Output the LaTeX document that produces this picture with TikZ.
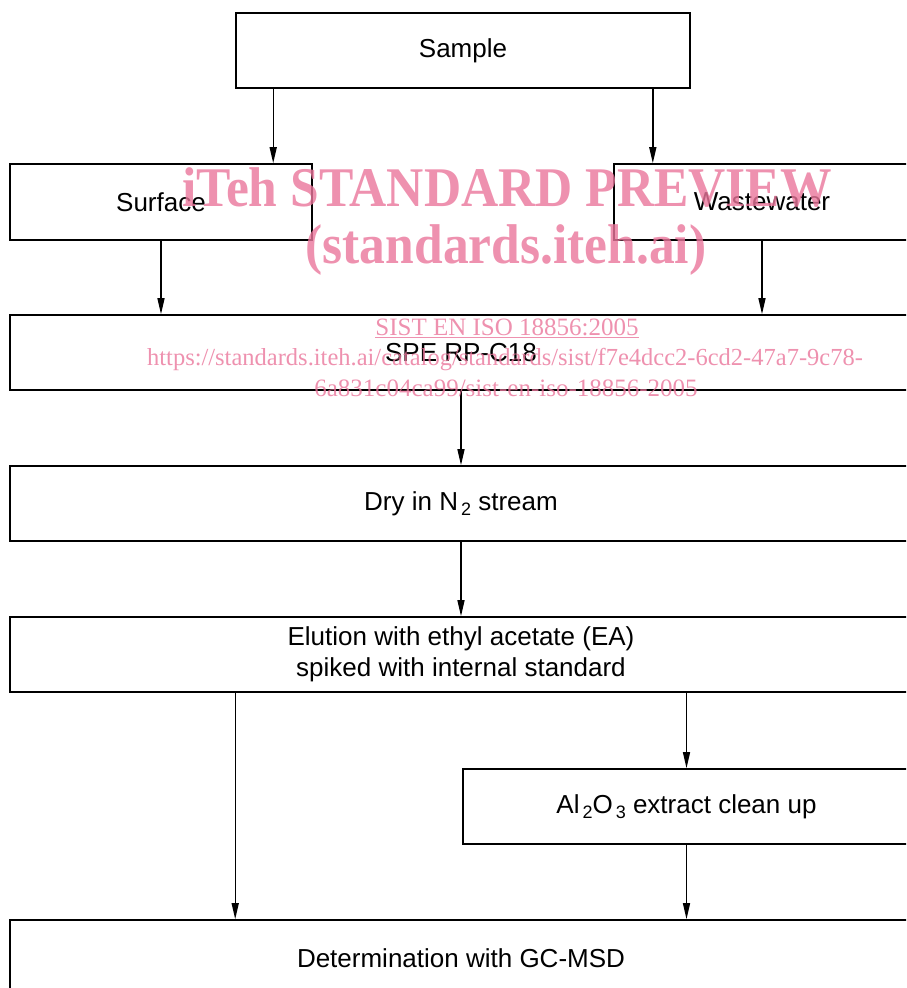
\documentclass[tikz,border=0pt]{standalone}
\usepackage{fontspec}
\setmainfont{Liberation Sans}
\newfontfamily\wmfont[FakeStretch=0.92]{Liberation Serif}
\newfontfamily\wmsmall{Liberation Serif}
\usetikzlibrary{arrows.meta}
\definecolor{wmpink}{RGB}{234,118,155}
\newcommand{\lowsub}[1]{\kern3pt\raisebox{-5pt}{\fontsize{18}{18}\selectfont #1}}
\begin{document}
\begin{tikzpicture}[
            x=1pt, y=-1pt,
            box/.style={draw, line width=1.6pt, inner sep=0pt, align=center,
                    minimum height=75pt, font=\fontsize{26}{31}\selectfont},
            flow/.style={-{Triangle[length=16pt,width=7pt]}, line width=1.4pt},
            wm/.style={text=wmpink, opacity=0.8, inner sep=0pt, anchor=base}
        ]
        \useasboundingbox (0,0) rectangle (906,988);
        \clip (0,0) rectangle (906,988);

        \node[box, minimum width=454pt] (sample) at (463,50.5) {Sample};
        \node[box, minimum width=302pt, minimum height=76pt] (surface) at (161,202) {Surface};
        \node[box, minimum width=296pt, minimum height=76pt] (waste) at (762,202) {Wastewater};
        \node[box, minimum width=902pt] (spe) at (461,352.5) {SPE RP-C18};
        \node[box, minimum width=902pt] (dry) at (461,503.5) {Dry in N\lowsub{2} stream};
        \node[box, minimum width=902pt] (elute) at (461,654.5) {Elution with ethyl acetate (EA)\\spiked with internal standard};
        \node[box, minimum width=447pt] (alox) at (686.5,806.5) {Al\lowsub{2}O\lowsub{3} extract clean up};
        \node[box, minimum width=902pt, minimum height=76pt] (gcmsd) at (461,958) {Determination with GC-MSD};

        \draw[flow] ([xshift=38pt]sample.south west) coordinate (sl) -- (sl |- surface.north);
        \draw[flow] ([xshift=-38pt]sample.south east) coordinate (sr) -- (sr |- waste.north);
        \draw[flow] (surface.south) -- (surface.south |- spe.north);
        \draw[flow] (waste.south) -- (waste.south |- spe.north);
        \draw[flow] (spe.south) -- (dry.north);
        \draw[flow] (dry.south) -- (elute.north);
        \draw[flow] ([xshift=226pt]elute.south west) coordinate (el) -- (el |- gcmsd.north);
        \draw[flow] (elute.south -| alox.north) -- (alox.north);
        \draw[flow] (alox.south) -- (alox.south |- gcmsd.north);

        % watermark
        \node[wm, font=\wmfont\bfseries\fontsize{56}{56}\selectfont] (wmtitle) at (507,206) {iTeh STANDARD PREVIEW};
        \node[wm, font=\wmfont\bfseries\fontsize{56}{56}\selectfont] (wmsite) at (506,263) {(standards.iteh.ai)};
        \node[wm, font=\wmsmall\fontsize{25}{25}\selectfont] (wmcode) at (507,335) {\underline{SIST EN ISO 18856:2005}};
        \node[wm, font=\wmsmall\fontsize{24.5}{25}\selectfont] (wmurl) at (505,365) {https://standards.iteh.ai/catalog/standards/sist/f7e4dcc2-6cd2-47a7-9c78-};
        \node[wm, font=\wmsmall\fontsize{25}{25}\selectfont] (wmurlend) at (506,396) {6a831c04ca99/sist-en-iso-18856-2005};
    \end{tikzpicture}
\end{document}
